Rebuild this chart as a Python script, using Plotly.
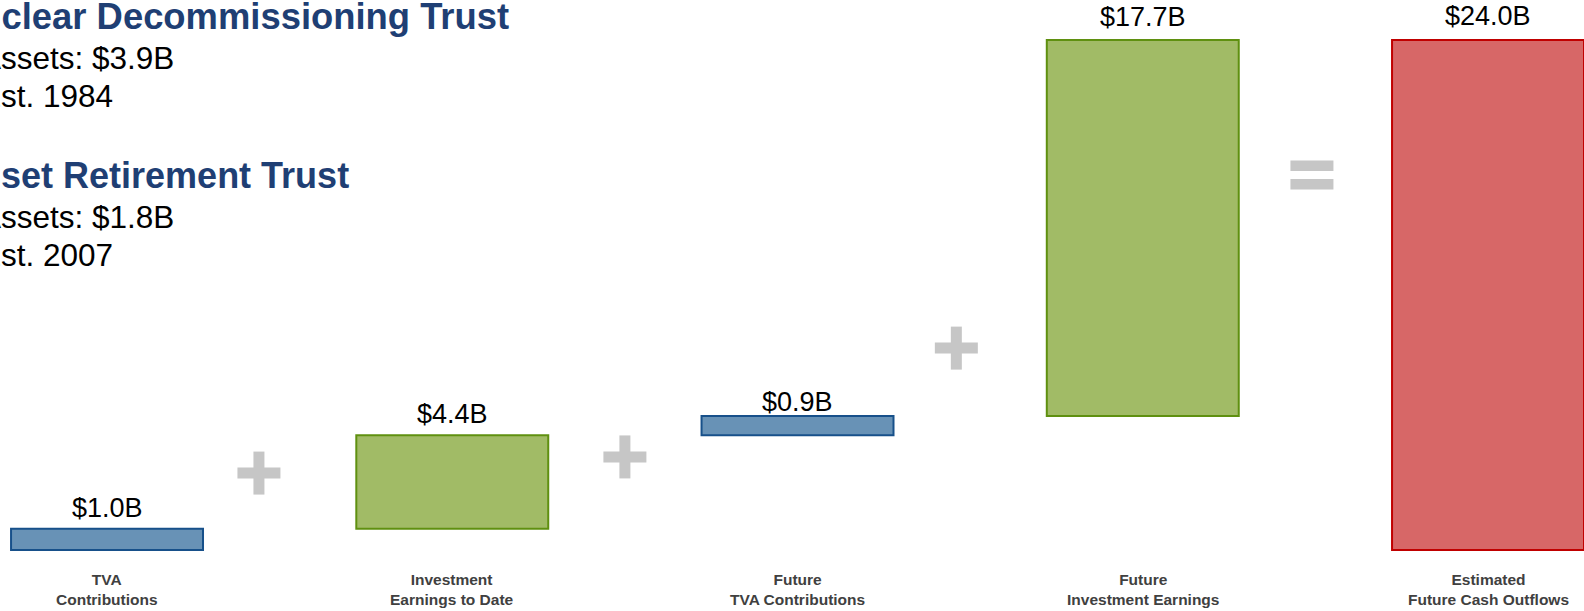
import plotly.graph_objects as go
import numpy as np

# Components of the trust funding build-up, in $ billions
categories = [
    "TVA<br>Contributions",
    "Investment<br>Earnings to Date",
    "Future<br>TVA Contributions",
    "Future<br>Investment Earnings",
    "Estimated<br>Future Cash Outflows",
]
values = [1.0, 4.4, 0.9, 17.7, 24.0]
is_total = [False, False, False, False, True]

# Trust summary text
trusts = [
    ("Nuclear Decommissioning Trust", "Assets: $3.9B", "Est. 1984"),
    ("Asset Retirement Trust", "Assets: $1.8B", "Est. 2007"),
]

# Styling
fills = ["#6892B6", "#A1BB66", "#6892B6", "#A1BB66", "#D76767"]
edges = ["#17508A", "#5F9010", "#17508A", "#5F9010", "#C00000"]
label_shift = [21, 21, 14, 23, 24]
op_color = "#C6C6C6"
navy = "#1F3F74"
font_main = "Liberation Sans, Arial, sans-serif"

# Floating bars: each step starts where the running total left off; totals start at 0
x = np.arange(len(values))
bases = []
running = 0.0
for v, tot in zip(values, is_total):
    if tot:
        bases.append(0.0)
    else:
        bases.append(running)
        running += v
tops = [b + v for b, v in zip(bases, values)]

fig = go.Figure(
    go.Bar(
        x=x,
        y=values,
        base=bases,
        width=0.556,
        marker=dict(color=fills, line=dict(color=edges, width=2)),
        hoverinfo="skip",
    )
)

annotations = []
# Value labels above each bar
for xi, t, v, s in zip(x, tops, values, label_shift):
    annotations.append(dict(
        x=xi, y=t, xref="x", yref="y", text=f"${v:.1f}B", showarrow=False,
        yanchor="middle", yshift=s,
        font=dict(family=font_main, size=27, color="#000000"),
    ))
# Category labels under the bars
for xi, c in zip(x, categories):
    annotations.append(dict(
        x=xi, y=-1.88, xref="x", yref="y", text=c, showarrow=False,
        yanchor="middle", align="center",
        font=dict(family=font_main, size=15.5, color="#404040", weight="bold"),
    ))
# Trust summary block, top left (the slide's text box starts left of the visible area)
text_rows = [(-49, 36.4, 16, 57.6, 96), (-47, 36, 175, 217, 255)]
for (title, assets, est), (tx, tsize, ty, ay, ey) in zip(trusts, text_rows):
    annotations.append(dict(
        x=tx / 1584, y=1 - ty / 611, xref="paper", yref="paper", text=f"<b>{title}</b>",
        showarrow=False, xanchor="left", yanchor="middle",
        font=dict(family=font_main, size=tsize, color=navy),
    ))
    for line, ly in ((assets, ay), (est, ey)):
        annotations.append(dict(
            x=-22 / 1584, y=1 - ly / 611, xref="paper", yref="paper", text=line,
            showarrow=False, xanchor="left", yanchor="middle",
            font=dict(family=font_main, size=31.5, color="#000000"),
        ))

# Plus and equals operators between bars
ops = [("+", 0.44, 3.62), ("+", 1.50, 4.38), ("+", 2.46, 9.5), ("=", 3.49, 17.65)]
shapes = []
half_len, half_w = 21.5, 5.5
for sym, ox, oy in ops:
    base = dict(type="rect", xref="x", yref="y", xsizemode="pixel", ysizemode="pixel",
                xanchor=ox, yanchor=oy, fillcolor=op_color, line=dict(width=0), layer="above")
    if sym == "+":
        shapes.append(dict(base, x0=-half_len, x1=half_len, y0=-half_w, y1=half_w))
        shapes.append(dict(base, x0=-half_w, x1=half_w, y0=-half_len, y1=half_len))
    else:
        shapes.append(dict(base, x0=-half_len, x1=half_len, y0=4, y1=14.5))
        shapes.append(dict(base, x0=-half_len, x1=half_len, y0=-14.5, y1=-4))

fig.update_layout(
    width=1584,
    height=611,
    margin=dict(l=0, r=0, t=0, b=0),
    paper_bgcolor="white",
    plot_bgcolor="white",
    showlegend=False,
    annotations=annotations,
    shapes=shapes,
    xaxis=dict(range=[-0.31, 4.278], visible=False, fixedrange=True),
    yaxis=dict(range=[-2.87, 25.88], visible=False, fixedrange=True),
)

fig.write_html("out.html")
